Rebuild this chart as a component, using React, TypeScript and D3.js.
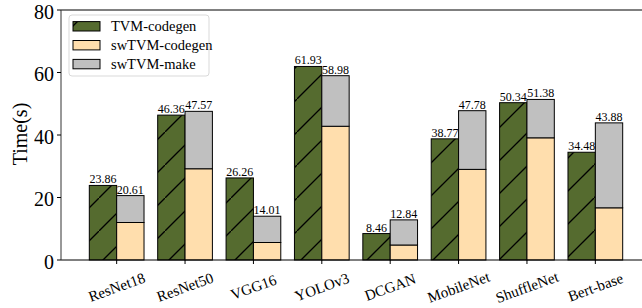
import React, { useEffect, useRef } from "react";
import * as d3 from "d3";

const categories = ["ResNet18", "ResNet50", "VGG16", "YOLOv3", "DCGAN", "MobileNet", "ShuffleNet", "Bert-base"];
const tvmCodegen = [23.86, 46.36, 26.26, 61.93, 8.46, 38.77, 50.34, 34.48];
const swCodegen = [12.0, 29.2, 5.6, 42.8, 4.8, 29.0, 39.1, 16.7];
const swTotal = [20.61, 47.57, 14.01, 58.98, 12.84, 47.78, 51.38, 43.88];
const yTicks = [0, 20, 40, 60, 80];
const legendLabels = ["TVM-codegen", "swTVM-codegen", "swTVM-make"];

const WIDTH = 642;
const HEIGHT = 308;
const FONT = "Liberation Serif";

const App: React.FC = () => {
  const svgRef: any = useRef();

  useEffect(() => {
    drawChart();
  }, []);

  const drawChart = () => {
    const svg = d3.select(svgRef.current);
    svg.selectAll("*").remove();

    const x = d3.scaleLinear().domain([-0.814, 7.814]).range([61, 651]);
    const y = d3.scaleLinear().domain([0, 80]).range([260, 10]);
    const barW = x(0.4) - x(0);

    const green = "#556B2F";
    const peach = "#FFDEAD";
    const gray = "#C0C0C0";

    // hatch pattern for TVM-codegen
    const defs = svg.append("defs");
    const pat = defs
      .append("pattern")
      .attr("id", "hatch")
      .attr("patternUnits", "userSpaceOnUse")
      .attr("width", 33)
      .attr("height", 33);
    pat.append("rect").attr("width", 33).attr("height", 33).attr("fill", green);
    pat
      .append("path")
      .attr("d", "M-2,35 L35,-2")
      .attr("stroke", "black")
      .attr("stroke-width", 1.3);

    const g = svg.append("g");

    // bars
    categories.forEach((c, i) => {
      const cx = x(i);
      g.append("rect")
        .attr("x", cx - barW)
        .attr("y", y(tvmCodegen[i]))
        .attr("width", barW)
        .attr("height", y(0) - y(tvmCodegen[i]))
        .attr("fill", "url(#hatch)")
        .attr("stroke", "black")
        .attr("stroke-width", 1);
      g.append("rect")
        .attr("x", cx)
        .attr("y", y(swCodegen[i]))
        .attr("width", barW)
        .attr("height", y(0) - y(swCodegen[i]))
        .attr("fill", peach)
        .attr("stroke", "black")
        .attr("stroke-width", 1);
      g.append("rect")
        .attr("x", cx)
        .attr("y", y(swTotal[i]))
        .attr("width", barW)
        .attr("height", y(swCodegen[i]) - y(swTotal[i]))
        .attr("fill", gray)
        .attr("stroke", "black")
        .attr("stroke-width", 1);

      g.append("text")
        .attr("x", cx - barW / 2)
        .attr("y", y(tvmCodegen[i]) - 2)
        .attr("text-anchor", "middle")
        .attr("font-family", FONT)
        .attr("font-size", 12)
        .text(tvmCodegen[i].toFixed(2));
      g.append("text")
        .attr("x", cx + barW / 2)
        .attr("y", y(swTotal[i]) - 2)
        .attr("text-anchor", "middle")
        .attr("font-family", FONT)
        .attr("font-size", 12)
        .text(swTotal[i].toFixed(2));
    });

    // spines
    g.append("line").attr("x1", 61).attr("x2", WIDTH).attr("y1", y(80)).attr("y2", y(80)).attr("stroke", "black");
    g.append("line").attr("x1", 61).attr("x2", WIDTH).attr("y1", y(0)).attr("y2", y(0)).attr("stroke", "black");
    g.append("line").attr("x1", 61).attr("x2", 61).attr("y1", y(0)).attr("y2", y(80)).attr("stroke", "#333");

    // y ticks
    yTicks.forEach((t) => {
      g.append("line")
        .attr("x1", 57)
        .attr("x2", 61)
        .attr("y1", y(t))
        .attr("y2", y(t))
        .attr("stroke", "black");
      g.append("text")
        .attr("x", 54)
        .attr("y", y(t) + 1.5)
        .attr("dy", "0.35em")
        .attr("text-anchor", "end")
        .attr("font-family", FONT)
        .attr("font-size", 20)
        .text(t);
    });

    // x ticks
    categories.forEach((c, i) => {
      g.append("line")
        .attr("x1", x(i))
        .attr("x2", x(i))
        .attr("y1", y(0))
        .attr("y2", y(0) + 4)
        .attr("stroke", "black");
      g.append("text")
        .attr("transform", `translate(${x(i)},${287}) rotate(-20)`)
        .attr("text-anchor", "middle")
        .attr("dy", "0.35em")
        .attr("font-family", FONT)
        .attr("font-size", 15)
        .text(c);
    });

    // y label
    g.append("text")
      .attr("transform", `translate(${20},${134}) rotate(-90)`)
      .attr("text-anchor", "middle")
      .attr("dy", "0.35em")
      .attr("font-family", FONT)
      .attr("font-size", 20)
      .text("Time(s)");

    // legend
    const lg = g.append("g");
    lg.append("rect")
      .attr("x", 69)
      .attr("y", 15)
      .attr("width", 140)
      .attr("height", 61)
      .attr("rx", 3)
      .attr("fill", "white")
      .attr("fill-opacity", 0.8)
      .attr("stroke", "#d9d9d9");
    const fills = ["url(#hatch)", peach, gray];
    legendLabels.forEach((l, i) => {
      const cy = 26.3 + i * 18.9;
      lg.append("rect")
        .attr("x", 73)
        .attr("y", cy - 4.7)
        .attr("width", 27)
        .attr("height", 9.4)
        .attr("fill", fills[i])
        .attr("stroke", "black");
      lg.append("text")
        .attr("x", 111)
        .attr("y", cy)
        .attr("dy", "0.35em")
        .attr("font-family", FONT)
        .attr("font-size", 14.5)
        .text(l);
    });
  };

  return (
    <svg
      ref={svgRef}
      width={WIDTH}
      height={HEIGHT}
      style={{ position: "absolute", left: 0, top: 0, background: "white" }}
    ></svg>
  );
};

export default App;
